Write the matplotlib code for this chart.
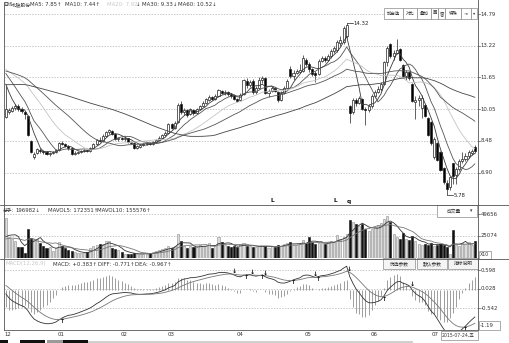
import numpy as np
import pandas as pd
import matplotlib
matplotlib.use("Agg")
import matplotlib.pyplot as plt
from matplotlib.patches import Rectangle
from matplotlib.lines import Line2D
from matplotlib.transforms import blended_transform_factory

plt.rcParams['font.family'] = ['DejaVu Sans', 'Noto Sans CJK SC']

# ---------------- daily bars (CNY) ----------------
opens = [
    9.65, 9.90, 9.95, 10.10, 10.20, 10.05, 9.90, 9.72, 8.50, 7.70,
    7.90, 8.05, 8.00, 7.92, 7.85, 7.88, 7.95, 8.05, 8.40, 8.35,
    8.22, 8.12, 7.85, 7.90, 7.95, 8.00, 8.05, 8.00, 8.15, 8.35,
    8.55, 8.50, 8.75, 8.95, 9.00, 8.85, 8.60, 8.65, 8.60, 8.62,
    8.45, 8.40, 8.15, 8.20, 8.28, 8.35, 8.40, 8.35, 8.45, 8.55,
    8.65, 8.80, 8.90, 9.30, 9.15, 9.40, 10.30, 9.90, 10.00, 9.80,
    10.00, 9.85, 10.05, 10.20, 10.35, 10.50, 10.65, 10.55, 10.70, 10.95,
    10.85, 10.90, 10.80, 10.75, 10.55, 10.50, 10.80, 11.45, 11.25, 11.45,
    10.90, 11.10, 11.50, 11.60, 10.85, 10.95, 11.10, 10.90, 10.50, 10.85,
    11.10, 12.05, 11.70, 11.85, 11.90, 11.95, 12.50, 12.30, 12.05, 11.85,
    11.80, 12.45, 12.60, 12.50, 12.70, 12.95, 13.00, 13.35, 13.40, 13.70,
    10.20, 9.90, 10.50, 10.35, 10.55, 10.05, 10.00, 10.20, 10.70, 10.90,
    11.05, 11.30, 12.40, 13.30, 12.70, 12.85, 13.05, 12.25, 11.70, 11.90,
    11.30, 10.40, 10.50, 10.10, 10.25, 9.60, 9.40, 7.70, 8.40, 7.95,
    7.15, 6.40, 6.20, 7.38, 6.80, 7.10, 7.50, 7.60, 7.75, 7.90,
    8.20,
]
highs = [
    11.20, 10.10, 10.20, 10.30, 10.30, 10.15, 9.95, 9.75, 8.55, 7.95,
    8.15, 8.12, 8.05, 7.98, 7.95, 8.00, 8.10, 8.45, 8.48, 8.40,
    8.28, 8.15, 7.98, 8.00, 8.05, 8.10, 8.10, 8.20, 8.40, 8.60,
    8.70, 8.85, 9.00, 9.10, 9.05, 8.90, 8.70, 8.70, 8.72, 8.65,
    8.50, 8.42, 8.28, 8.32, 8.40, 8.45, 8.45, 8.50, 8.60, 8.72,
    8.85, 9.00, 9.35, 9.38, 9.45, 10.35, 10.45, 10.10, 10.05, 10.10,
    10.05, 10.10, 10.25, 10.45, 10.60, 10.75, 10.70, 10.80, 11.05, 11.00,
    11.00, 10.95, 10.85, 10.80, 10.60, 10.85, 11.55, 11.60, 11.50, 11.55,
    11.20, 11.65, 11.70, 11.65, 11.05, 11.20, 11.15, 10.95, 10.95, 11.20,
    11.55, 12.20, 12.00, 12.05, 12.30, 12.75, 12.60, 12.40, 12.10, 11.95,
    12.55, 12.70, 12.70, 12.80, 13.05, 13.20, 13.50, 13.70, 14.20, 14.32,
    10.25, 10.60, 10.60, 10.70, 10.60, 10.15, 10.30, 10.80, 11.00, 11.20,
    11.40, 12.45, 13.20, 13.35, 13.00, 13.55, 13.10, 12.30, 12.00, 11.95,
    11.35, 10.70, 10.75, 10.75, 10.30, 9.65, 9.45, 8.70, 8.45, 8.00,
    7.20, 6.55, 6.75, 7.38, 7.20, 7.60, 7.95, 7.90, 8.05, 8.10,
    8.30,
]
lows = [
    9.60, 9.80, 9.90, 10.00, 9.95, 9.85, 9.55, 8.75, 7.90, 7.60,
    7.85, 7.90, 7.85, 7.78, 7.75, 7.82, 7.90, 8.00, 8.28, 8.18,
    8.05, 7.78, 7.80, 7.85, 7.90, 7.95, 7.92, 7.95, 8.10, 8.30,
    8.45, 8.45, 8.70, 8.85, 8.80, 8.55, 8.50, 8.55, 8.50, 8.40,
    8.35, 8.10, 8.10, 8.15, 8.22, 8.30, 8.30, 8.30, 8.40, 8.50,
    8.60, 8.75, 8.85, 9.10, 9.10, 9.35, 9.80, 9.75, 9.65, 9.75,
    9.75, 9.80, 10.00, 10.15, 10.30, 10.45, 10.50, 10.50, 10.65, 10.80,
    10.75, 10.70, 10.60, 10.50, 10.40, 10.45, 10.75, 11.10, 11.15, 10.80,
    10.80, 11.05, 11.35, 10.80, 10.65, 10.90, 10.90, 10.40, 10.45, 10.80,
    11.05, 11.60, 11.50, 11.80, 11.85, 11.90, 12.20, 11.90, 11.70, 11.40,
    11.75, 12.40, 12.40, 12.45, 12.60, 12.85, 12.90, 13.20, 13.30, 13.60,
    9.37, 9.80, 10.20, 10.30, 10.00, 9.27, 9.90, 10.10, 10.60, 10.85,
    10.95, 11.25, 12.20, 12.60, 12.50, 12.80, 12.45, 11.65, 11.50, 11.50,
    10.40, 9.55, 10.20, 9.60, 9.65, 8.75, 8.30, 7.60, 7.50, 7.00,
    6.35, 5.78, 6.05, 6.35, 6.35, 7.00, 7.40, 7.50, 7.65, 7.80,
    7.90,
]
closes = [
    10.05, 10.00, 10.10, 10.20, 10.05, 9.95, 9.80, 8.80, 7.95, 7.85,
    8.10, 8.00, 7.95, 7.85, 7.90, 7.95, 8.05, 8.40, 8.35, 8.22,
    8.12, 7.82, 7.90, 7.95, 8.00, 8.05, 7.98, 8.15, 8.35, 8.55,
    8.50, 8.75, 8.95, 9.05, 8.85, 8.60, 8.65, 8.60, 8.65, 8.45,
    8.40, 8.15, 8.22, 8.28, 8.35, 8.38, 8.35, 8.45, 8.55, 8.65,
    8.80, 8.90, 9.30, 9.15, 9.35, 10.25, 9.90, 10.00, 9.75, 10.05,
    9.85, 10.05, 10.20, 10.35, 10.55, 10.65, 10.55, 10.70, 11.00, 10.85,
    10.90, 10.80, 10.70, 10.55, 10.45, 10.75, 11.50, 11.25, 11.40, 10.90,
    11.10, 11.50, 11.60, 10.85, 10.95, 11.10, 10.95, 10.50, 10.85, 11.10,
    11.45, 11.70, 11.85, 11.95, 12.00, 12.60, 12.30, 12.05, 11.80, 11.75,
    12.45, 12.60, 12.50, 12.70, 12.95, 13.10, 13.40, 13.50, 14.10, 14.25,
    9.85, 10.50, 10.35, 10.60, 10.05, 10.02, 10.20, 10.70, 10.90, 11.05,
    11.30, 12.40, 13.10, 12.70, 12.85, 13.00, 12.50, 11.70, 11.90, 11.60,
    10.45, 10.50, 10.60, 10.60, 9.70, 8.80, 8.40, 8.60, 7.55, 7.05,
    6.45, 6.10, 6.71, 6.75, 7.10, 7.50, 7.60, 7.75, 7.95, 8.00,
    8.00,
]
# volume, in units of 10 lots
volumes = [
    45000, 24000, 21000, 19000, 12000, 12000, 6000, 33000, 22500, 21000,
    22000, 17000, 13000, 11500, 12000, 7500, 11000, 18500, 13000, 11500,
    9000, 8000, 6500, 5500, 5600, 5800, 7000, 11000, 13000, 15000,
    16000, 16000, 19000, 19500, 11000, 10000, 9500, 7000, 5000, 4500,
    5000, 5500, 4500, 4000, 4500, 5000, 6000, 6500, 7500, 9000,
    10500, 11000, 13000, 11500, 14000, 27000, 19500, 14000, 11000, 13000,
    12000, 12500, 15000, 13000, 14000, 17000, 11000, 15000, 24000, 18000,
    14500, 14000, 12500, 14000, 12000, 15500, 17000, 13500, 14000, 12000,
    12000, 13000, 14000, 13500, 11500, 13000, 12500, 15000, 14000, 15500,
    17000, 18500, 14500, 15000, 16000, 20000, 17000, 24000, 18000, 16000,
    16500, 17000, 16000, 17500, 19000, 18500, 26000, 21000, 24000, 27000,
    43000, 41000, 38000, 36000, 38500, 33000, 30000, 33000, 35000, 37000,
    39000, 44500, 47000, 41000, 27000, 24000, 22000, 28000, 22000, 20000,
    25000, 19000, 16000, 14500, 15500, 15000, 16500, 14000, 15000, 15500,
    15000, 12000, 5000, 32000, 15000, 14000, 17000, 16000, 17500, 14500,
    19700,
]
# sessions before the first bar on screen, used to warm up the averages
prior_closes = [
    9.90, 9.85, 9.95, 10.00, 10.10, 10.05, 10.20, 10.30, 10.25, 10.35,
    10.40, 10.50, 10.45, 10.55, 10.60, 10.70, 10.65, 10.75, 10.80, 10.90,
    10.85, 10.95, 11.00, 11.05, 11.00, 11.10, 11.15, 11.10, 11.20, 11.30,
    11.40, 11.50, 11.60, 11.70, 11.80, 11.90, 11.95, 12.00, 12.10, 12.05,
    12.10, 12.20, 12.30, 12.25, 12.40, 12.35, 12.30, 12.20, 12.15, 12.10,
    12.20, 12.35, 12.50, 12.45, 12.30, 12.00, 11.80, 11.50, 11.15,
]
prior_volumes = [17000, 19000, 21000, 18000, 20000, 16000, 19000, 18000, 22000]

month_idx = [0, 17, 37, 52, 74, 96, 117, 137]
month_labels = ["12", "01", "02", "03", "04", "05", "06", "07"]
price_ticks = [14.79, 13.22, 11.65, 10.05, 8.48, 6.90]
price_tick_labels = ["14.79", "13.22", "11.65", "10.05", "8.48", "6.90"]
vol_ticks = [49656, 25074]
macd_ticks = [0.598, 0.028, -0.542]

# ---------------- indicators ----------------
n = len(closes)
o = np.array(opens); h = np.array(highs); l = np.array(lows); c = np.array(closes)
v = np.array(volumes, dtype=float)
up = c >= o
x = np.arange(n)

all_close = pd.Series(prior_closes + closes)
mas = {k: all_close.rolling(k).mean().to_numpy()[-n:] for k in (5, 10, 20, 30, 60)}
all_vol = pd.Series(prior_volumes + volumes, dtype=float)
mavol5 = all_vol.rolling(5).mean().to_numpy()[-n:]
mavol10 = all_vol.rolling(10).mean().to_numpy()[-n:]

ema12 = all_close.ewm(span=12, adjust=False).mean()
ema26 = all_close.ewm(span=26, adjust=False).mean()
diff_all = ema12 - ema26
dea_all = diff_all.ewm(span=9, adjust=False).mean()
diff = diff_all.to_numpy()[-n:]
dea = dea_all.to_numpy()[-n:]
hist = 2 * (diff - dea)

# ---------------- layout (pixel based) ----------------
W, H = 509, 343
fig = plt.figure(figsize=(W / 100, H / 100), dpi=100)
fig.patch.set_facecolor("white")

def fx(px):
    return px / W

def fy(py):
    return 1 - py / H

LEFT, RIGHT = 4, 478

def make_ax(top, bottom):
    ax = fig.add_axes([fx(LEFT), fy(bottom), fx(RIGHT) - fx(LEFT), (bottom - top) / H])
    ax.set_xlim(-0.6, n - 0.0)
    ax.set_xticks([]); ax.set_yticks([])
    for s in ax.spines.values():
        s.set_visible(False)
    ax.patch.set_alpha(0)
    return ax

ax = make_ax(0, 205)
ax.set_ylim(5.299, 15.486)
axv = make_ax(205, 258)
axv.set_ylim(0, 59813)
axm = make_ax(259, 330)
axm.set_ylim(-1.202, 0.928)

GRID = dict(color="#b0b0b0", lw=0.5, ls=(0, (2, 2)), zorder=0)
DARK = "#222222"
FS = 3.9

def right_labels(a, vals, labels, tick=True):
    tr = blended_transform_factory(a.transAxes, a.transData)
    for val, lab in zip(vals, labels):
        if tick:
            a.plot([1.0, 1.004], [val, val], color="#555", lw=0.5, transform=tr, clip_on=False)
        a.text(1.006, val, lab, transform=tr, fontsize=FS, color="#333", va="center", ha="left")

# ---------------- price panel ----------------
for t in price_ticks:
    ax.axhline(t, **GRID)
right_labels(ax, price_ticks, price_tick_labels)

body_w = 0.66
for i in range(n):
    ax.vlines(i, l[i], h[i], color=DARK, lw=0.5, zorder=2)
    lo_b = min(o[i], c[i])
    hgt = max(abs(c[i] - o[i]), 0.02)
    face = "white" if up[i] else "black"
    ax.add_patch(Rectangle((i - body_w / 2, lo_b), body_w, hgt, facecolor=face,
                           edgecolor=DARK, lw=0.5, zorder=3))

ma_style = {5: ("#3a3a3a", 0.6), 10: ("#555555", 0.6), 20: ("#c4c4c4", 0.6),
            30: ("#555555", 0.6), 60: ("#444444", 0.6)}
for k, (col, lw) in ma_style.items():
    ax.plot(x, mas[k], color=col, lw=lw, zorder=4)

# extreme markers
i_hi = int(np.argmax(h)); i_lo = int(np.argmin(l))
ax.plot([i_hi, i_hi + 2], [h[i_hi], h[i_hi]], color=DARK, lw=0.5, zorder=5)
ax.text(i_hi + 2.2, h[i_hi], f"{h[i_hi]:.2f}", fontsize=FS, color="#222", va="center", ha="left")
ax.plot([i_lo, i_lo + 2], [l[i_lo], l[i_lo]], color=DARK, lw=0.5, zorder=5)
ax.text(i_lo + 2.2, l[i_lo], f"{l[i_lo]:.2f}", fontsize=FS, color="#222", va="center", ha="left")

# info markers
for px_, ch in [(272, "L"), (335, "L"), (349, "q")]:
    fig.text(fx(px_), fy(201), ch, fontsize=4.2, color="#111", ha="center", va="center",
             fontweight="bold")

# ---------------- volume panel ----------------
for t in vol_ticks:
    axv.axhline(t, **GRID)
right_labels(axv, vol_ticks, [str(t) for t in vol_ticks])
axv.bar(x[up], v[up], width=body_w, color="#dcdcdc", edgecolor="#8c8c8c", lw=0.4, zorder=2)
axv.bar(x[~up], v[~up], width=body_w, color="#111111", edgecolor="#111111", lw=0.4, zorder=2)
axv.plot(x, mavol5, color="#333333", lw=0.6, zorder=3)
axv.plot(x, mavol10, color="#777777", lw=0.6, zorder=3)

# ---------------- MACD panel ----------------
for t in macd_ticks:
    axm.axhline(t, **GRID)
right_labels(axm, macd_ticks, ["0.598", "0.028", "-0.542"])
axm.vlines(x, 0, hist, color="#8e8e8e", lw=0.6, zorder=2)
axm.plot(x, diff, color="#333333", lw=0.6, zorder=3)
axm.plot(x, dea, color="#777777", lw=0.6, zorder=3)
sgn = np.sign(diff - dea)
for i in range(1, n):
    if sgn[i] != sgn[i - 1] and sgn[i] != 0:
        if sgn[i] > 0:
            axm.text(i, dea[i], "↑", fontsize=4.6, fontweight="bold", color="#111",
                     ha="center", va="top", family="DejaVu Sans", zorder=5)
        else:
            axm.text(i, dea[i], "↓", fontsize=4.6, fontweight="bold", color="#111",
                     ha="center", va="bottom", family="DejaVu Sans", zorder=5)

# ---------------- frame lines ----------------
def hline(py, x0, x1, col="#555555", lw=0.6):
    fig.add_artist(Line2D([fx(x0), fx(x1)], [fy(py), fy(py)], color=col, lw=lw))

def vline(px, y0, y1, col="#555555", lw=0.6):
    fig.add_artist(Line2D([fx(px), fx(px)], [fy(y0), fy(y1)], color=col, lw=lw))

vline(LEFT, 2, 330)
vline(RIGHT, 0, 330)
hline(205, 0, W)
hline(258.5, 0, W)
hline(330, LEFT, RIGHT)

# ---------------- header texts ----------------
def ftxt(px, py, s, size=FS, col="#333333", **kw):
    fig.text(fx(px), fy(py), s, fontsize=size, color=col, ha="left", va="center", **kw)

ftxt(3, 5, "日线", 3.4)
ftxt(12, 5, "北玻股份", 3.4)
ftxt(30, 5, "MA5: 7.85↑")
ftxt(65, 5, "MA10: 7.44↑")
ftxt(107, 5, "MA20: 7.92", col="#c8c8c8")
ftxt(136, 5, "↓")
ftxt(142, 5, "MA30: 9.33↓")
ftxt(178, 5, "MA60: 10.52↓")

ftxt(3, 211, "总手:", 3.4)
ftxt(15, 211, "196982↓")
ftxt(48, 211, "MAVOL5: 172351↑")
ftxt(97, 211, "MAVOL10: 155576↑")

ftxt(5, 264, "MACD(12,26,9)", col="#c8c8c8")
ftxt(53, 264, "MACD: +0.383↑")
ftxt(98, 264, "DIFF: -0.771↑")
ftxt(135, 264, "DEA: -0.967↑")

# toolbar
tools = [(384, 403, "加自选"), (403, 417, "对比"), (417, 431, "叠加"), (431, 438, "画"),
         (438, 445, "窗"), (445, 461, "特殊"), (461, 471, "⇥"), (471, 477, "▾")]
for x0, x1, lab in tools:
    fig.add_artist(Rectangle((fx(x0), fy(19)), fx(x1) - fx(x0), (19 - 8) / H,
                             facecolor="white", edgecolor="#8a8a8a", lw=0.5))
    fig.text(fx((x0 + x1) / 2), fy(13.5), lab, fontsize=3.2, color="#333", ha="center", va="center")

# volume selector
fig.add_artist(Rectangle((fx(437), fy(217)), fx(477) - fx(437), 12 / H,
                         facecolor="white", edgecolor="#8a8a8a", lw=0.5))
ftxt(447, 211, "成交量", 3.4)
ftxt(470, 211, "▾", 3.4)

# MACD buttons
for x0, x1, lab in [(383, 415, "优选参数"), (417, 447, "默认参数"), (448, 478, "指标说明")]:
    fig.add_artist(Rectangle((fx(x0), fy(269)), fx(x1) - fx(x0), 11 / H,
                             facecolor="#f4f4f4", edgecolor="#8a8a8a", lw=0.5))
    fig.text(fx((x0 + x1) / 2), fy(263.5), lab, fontsize=3.4, color="#333", ha="center", va="center")

# small boxed scale notes
fig.add_artist(Rectangle((fx(479), fy(259)), fx(491) - fx(479), 8 / H,
                         facecolor="white", edgecolor="#8a8a8a", lw=0.5))
ftxt(480, 255, "X10", 3.4)
fig.add_artist(Rectangle((fx(479), fy(330)), fx(500) - fx(479), 9 / H,
                         facecolor="white", edgecolor="#8a8a8a", lw=0.5))
ftxt(480, 325.5, "-1.19")

# month labels
for idx, lab in zip(month_idx, month_labels):
    px_ = LEFT + (idx + 0.6) * (RIGHT - LEFT) / (n + 0.6)
    if lab == "07":
        px_ -= 2
    ftxt(px_ - 1, 334.5, lab)

# current date box
fig.add_artist(Rectangle((fx(441), fy(340)), fx(478) - fx(441), 9 / H,
                         facecolor="white", edgecolor="#8a8a8a", lw=0.5))
ftxt(442, 335.5, "2015-07-24,五", 3.3)

# bottom tab strip
for x0, x1, col in [(0, 8, "#111111"), (20, 45, "#111111"), (47, 63, "#9a9a9a"), (63, 88, "#111111")]:
    fig.add_artist(Rectangle((fx(x0), 0), fx(x1) - fx(x0), 3 / H, facecolor=col, edgecolor="none"))
fig.add_artist(Rectangle((fx(88), 0), fx(413) - fx(88), 2 / H, facecolor="#d0d0d0", edgecolor="none"))

fig.savefig("out.png", dpi=100, facecolor="white")
